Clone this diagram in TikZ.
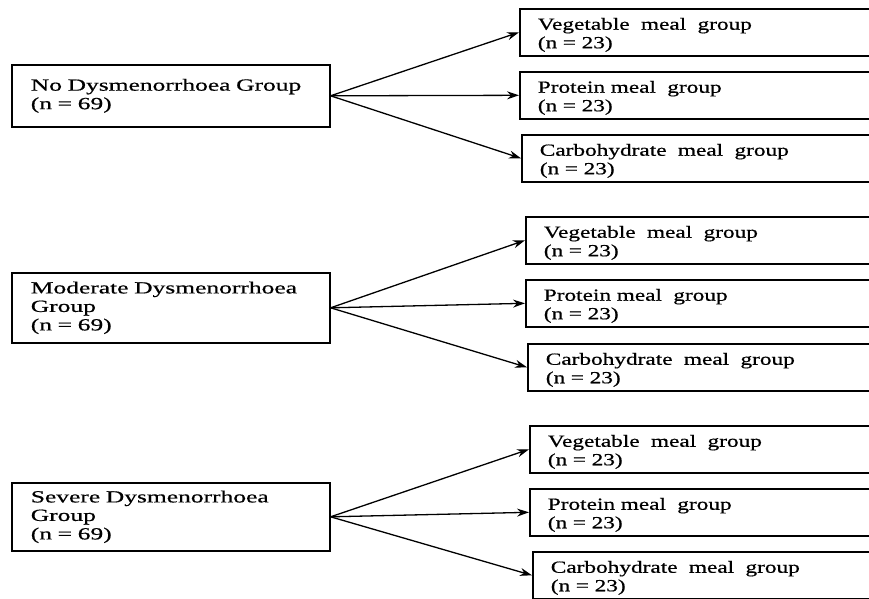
\documentclass[tikz,border=0pt]{standalone}
\usepackage{fontspec}
\setmainfont[FakeStretch=1.37,FakeBold=0.6]{Liberation Serif}
\newfontfamily\widefont[FakeStretch=1.5,FakeBold=0.6]{Liberation Serif}
\usetikzlibrary{arrows.meta}

\begin{document}
\begin{tikzpicture}[
          x=1pt,y=-1pt,
          group_box/.style={
              draw,
              line width=1.6pt,
              anchor=north west,
              align=left,
              inner xsep=19pt,
              inner ysep=0pt,
              font=\fontsize{17}{18.5}\selectfont
            },left_box/.style={
              group_box,
              font=\widefont\fontsize{17}{18.5}\selectfont,
              text width=280pt
            },meal_box/.style={
              group_box,
              inner xsep=18pt,
              text width=344pt,
              minimum height=47pt,
              execute at begin node={\rule{0pt}{17pt}}
            },arrow/.style={
              line width=1.3pt,
              -{Stealth[length=12pt,width=8pt]}
            }
        ]
        % 描画範囲
        \useasboundingbox (0,0) rectangle (869,598);
        \clip (0,0) rectangle (869,598);

        % 左側のグループ
        \node[left_box,minimum height=62pt] (no_group) at (11,64)
          {No Dysmenorrhoea Group\\(n = 69)};
        \node[left_box,minimum height=70pt] (moderate_group) at (11,272)
          {Moderate Dysmenorrhoea\\Group\\(n = 69)};
        \node[left_box,minimum height=68pt] (severe_group) at (11,482)
          {Severe Dysmenorrhoea\\Group\\(n = 69)};

        % 右側の食事グループ（上段）
        \node[meal_box] (no_vegetable) at (519,8) {Vegetable \ meal \ group\\(n = 23)};
        \node[meal_box] (no_protein) at (519,71) {Protein meal \ group\\(n = 23)};
        \node[meal_box] (no_carbohydrate) at (521,134) {Carbohydrate \ meal \ group\\(n = 23)};
        % 右側の食事グループ（中段）
        \node[meal_box] (moderate_vegetable) at (525,216) {Vegetable \ meal \ group\\(n = 23)};
        \node[meal_box] (moderate_protein) at (525,279) {Protein meal \ group\\(n = 23)};
        \node[meal_box] (moderate_carbohydrate) at (527,343) {Carbohydrate \ meal \ group\\(n = 23)};
        % 右側の食事グループ（下段）
        \node[meal_box] (severe_vegetable) at (529,425) {Vegetable \ meal \ group\\(n = 23)};
        \node[meal_box] (severe_protein) at (529,488) {Protein meal \ group\\(n = 23)};
        \node[meal_box] (severe_carbohydrate) at (532,551) {Carbohydrate \ meal \ group\\(n = 23)};

        % 矢印
        \draw[arrow] (no_group.east) -- (no_vegetable.west);
        \draw[arrow] (no_group.east) -- (no_protein.west);
        \draw[arrow] (no_group.east) -- (no_carbohydrate.west);
        \draw[arrow] (moderate_group.east) -- (moderate_vegetable.west);
        \draw[arrow] (moderate_group.east) -- (moderate_protein.west);
        \draw[arrow] (moderate_group.east) -- (moderate_carbohydrate.west);
        \draw[arrow] (severe_group.east) -- (severe_vegetable.west);
        \draw[arrow] (severe_group.east) -- (severe_protein.west);
        \draw[arrow] (severe_group.east) -- (severe_carbohydrate.west);

      \end{tikzpicture}
\end{document}
